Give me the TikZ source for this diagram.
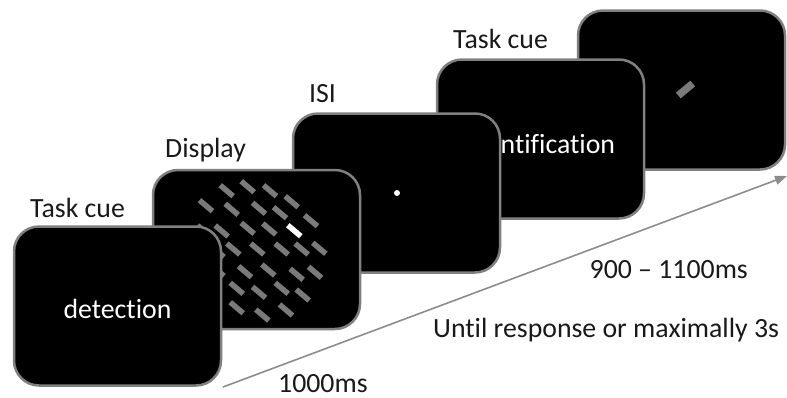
\documentclass[tikz,border=0pt]{standalone}
\usepackage{fontspec}
\setmainfont{Carlito}[Ligatures=NoCommon]
\usetikzlibrary{arrows.meta,calc}

\definecolor{rim}{HTML}{808080}
\definecolor{bargrey}{HTML}{7A7A7A}
\definecolor{axisgrey}{HTML}{8C8C8C}

\begin{document}
\begin{tikzpicture}[x=1pt,y=-1pt,
  screen/.style={draw=rim, line width=2.5pt, fill=black, rounded corners=25pt,
                 inner sep=0pt, minimum width=207pt, minimum height=159pt},
  lbl/.style={font=\fontsize{27.8}{33}\selectfont, inner sep=0pt, text=black!90},
  inlbl/.style={lbl, text=white},
  dashbar/.style={line width=5.5pt, line cap=butt, bargrey},
  timeline/.style={axisgrey, line width=1.6pt, -{Triangle[length=12pt,width=9pt]}}
]
\useasboundingbox (0,0) rectangle (787,397);

% ---- screens, back to front ----
\node[screen] (s5) at (681.5,90) {};
\coordinate (tgt) at (685.5,89.5);
\draw[line width=7.5pt, line cap=butt, bargrey] ($(tgt)+(-7.2,6.0)$) -- ($(tgt)+(7.2,-6.0)$);

\node[screen] (s4) at (540.5,139) {};
\node[inlbl, anchor=base] (idtxt) at (540.5,153) {identification};

\node[screen] (s3) at (396.5,193) {};
\node[circle, fill=white, inner sep=0pt, minimum size=6pt] (fix) at (397,193) {};

% search display
\node[screen] (s2) at (256.5,249.5) {};
\begin{scope}
  \clip[rounded corners=25pt] (154.5,171.5) rectangle (358.5,327.5);
  \foreach \cx/\cy in {
      226.7/190.7, 247.7/186.7, 270/190.7, 291.7/201.7,
      206/205.7, 231.7/209.3, 259/208.3, 280/212.7, 311/220.7,
      221.7/231, 247.7/228.3, 269.3/229,
      233.3/249, 257.3/249, 281.7/249, 301.7/249, 319.3/248.3,
      245/271.7, 268.3/270, 296.7/274.3, 315/272.3,
      236.7/288.3, 259/292.3, 281.7/288.3, 302.7/295,
      236.7/307.7, 262.3/315, 286/310,
      204/231, 217.5/251.5, 217.5/270.5}
    \draw[dashbar] (\cx-6.5,\cy-5.5) -- (\cx+6.5,\cy+5.5);
  \draw[dashbar, white] (294.3-6.5,230.7-5.5) -- (294.3+6.5,230.7+5.5);
\end{scope}

% task cue screen in front
\node[screen] (s1) at (117.5,306) {};
\node[inlbl, anchor=base] (dettxt) at (117.5,318) {detection};

% ---- labels above the screens ----
\node[lbl, anchor=base west] (cue1) at (30,217) {Task cue};
\node[lbl, anchor=base west] (disp) at (165,157) {Display};
\node[lbl, anchor=base west] (isi) at (309,102) {ISI};
\node[lbl, anchor=base west] (cue2) at (453,48) {Task cue};

% ---- time axis ----
\coordinate (t0) at (223,387);
\coordinate (t1) at (787,176);
\draw[timeline] (t0) -- (t1);

\node[lbl, anchor=base west] (d1) at (278,392) {1000ms};
\node[lbl, anchor=base west] (d2) at (433,337) {Until response or maximally 3s};
\node[lbl, anchor=base east] (d3) at (748,278) {900 – 1100ms};
\end{tikzpicture}
\end{document}
